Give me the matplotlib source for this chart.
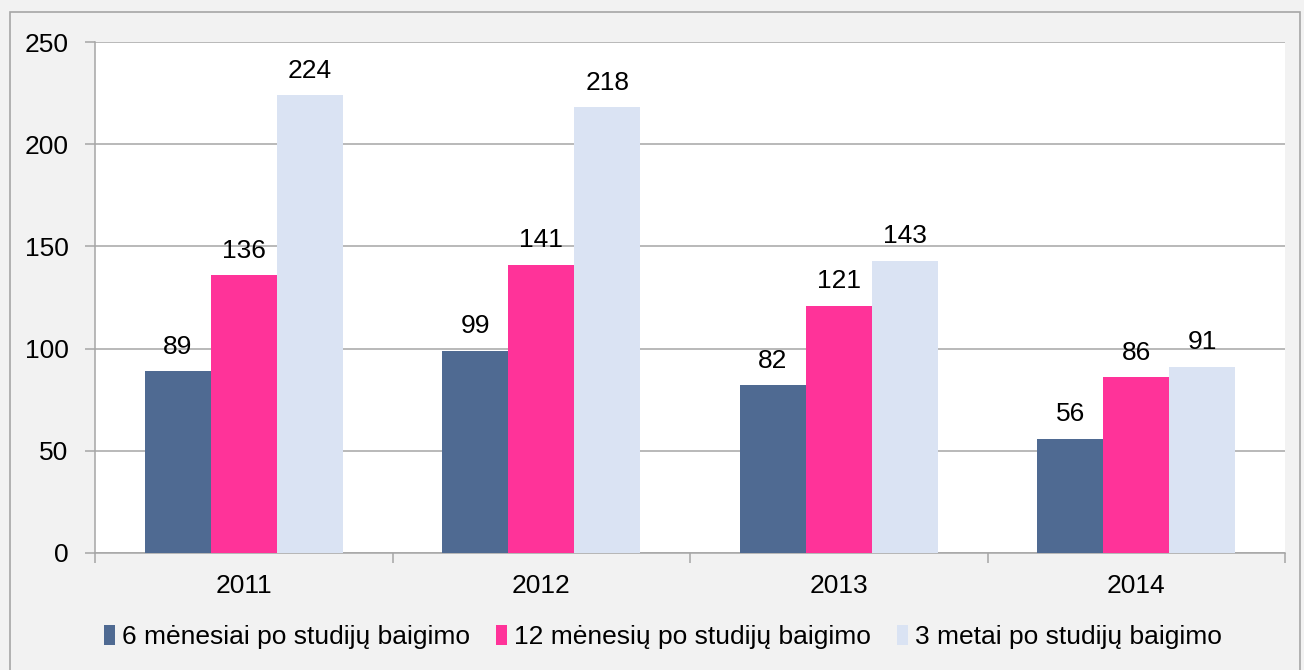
import matplotlib.pyplot as plt
import numpy as np
from matplotlib.patches import Rectangle

plt.rcParams['font.family'] = ['Liberation Sans', 'DejaVu Sans']

years = ['2011', '2012', '2013', '2014']
series_names = ['6 mėnesiai po studijų baigimo',
                '12 mėnesių po studijų baigimo',
                '3 metai po studijų baigimo']
six_months = [89, 99, 82, 56]
twelve_months = [136, 141, 121, 86]
three_years = [224, 218, 143, 91]
colors = ['#4F6A92', '#FF3399', '#DAE3F3']
fs = 19

fig = plt.figure(figsize=(13.04, 6.70), dpi=100, facecolor='#F2F2F2')
# outer chart border
fig.patches.append(Rectangle((10 / 1304, -5 / 670), 1290 / 1304, 663 / 670,
                             transform=fig.transFigure, fill=False,
                             edgecolor='#A6A6A6', linewidth=1.2))

ax = fig.add_axes([95 / 1304, 1 - 553 / 670, 1190 / 1304, 511 / 670])
ax.set_facecolor('white')

x = np.arange(len(years))
w = 0.222
for i, (vals, name) in enumerate(zip([six_months, twelve_months, three_years], series_names)):
    pos = x + (i - 1) * w
    ax.bar(pos, vals, width=w, color=colors[i], label=name, zorder=3)
    for p, v in zip(pos, vals):
        ax.annotate(str(v), (p, v), xytext=(0, 9), textcoords='offset points',
                    ha='center', va='bottom', fontsize=fs)

ax.set_xlim(-0.5, len(years) - 0.5)
ax.set_ylim(0, 250)
ax.set_yticks(range(0, 251, 50))
ax.yaxis.grid(True, color='#A6A6A6', linewidth=1.1, zorder=0)
ax.set_xticks(x)
ax.set_xticklabels(years)
ax.set_xticks(np.arange(-0.5, len(years), 1), minor=True)
ax.tick_params(axis='x', which='major', length=0, labelsize=fs, pad=15)
ax.tick_params(axis='x', which='minor', length=7, color='#A6A6A6', width=1.1)
ax.tick_params(axis='y', length=7, color='#A6A6A6', width=1.1, labelsize=fs, pad=12)
for s in ['top', 'right']:
    ax.spines[s].set_visible(False)
for s in ['left', 'bottom']:
    ax.spines[s].set_color('#A6A6A6')
    ax.spines[s].set_linewidth(1.1)

ax.legend(loc='center left', bbox_to_anchor=(9 / 1190, -0.165), ncol=3, frameon=False,
          fontsize=fs, handlelength=0.42, handleheight=0.8, handletextpad=0.25,
          columnspacing=1.0, borderaxespad=0, borderpad=0)

fig.savefig('out.png', dpi=100, facecolor=fig.get_facecolor())
